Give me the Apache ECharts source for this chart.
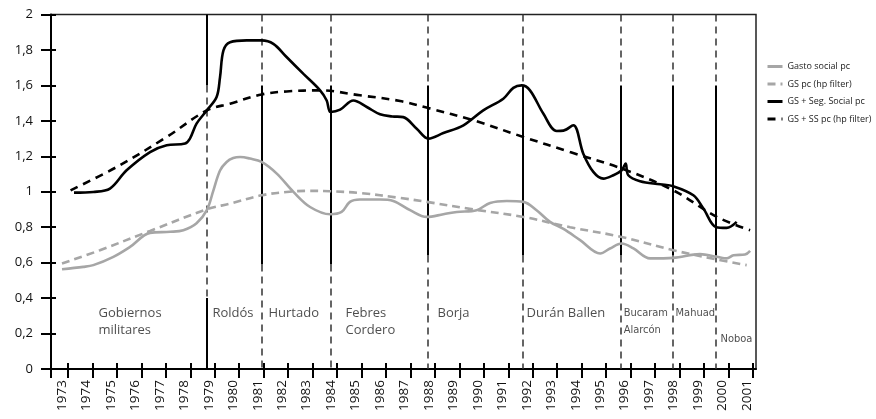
<!DOCTYPE html>
<html><head><meta charset="utf-8">
<script src="https://cdn.jsdelivr.net/npm/echarts@6/dist/echarts.min.js"></script>
<style>html,body{margin:0;padding:0;background:#fff}#c{width:876px;height:419px}</style>
</head><body><div id="c"></div>
<script>
// ---- tick labels ----
const years = [];
for (let y = 1973; y <= 2001; y++) years.push(y);
const yTicks = [0,0.2,0.4,0.6,0.8,1,1.2,1.4,1.6,1.8,2];

// ---- series values (x = year, y = value) ----
const gastoX = [1973.0,1973.87,1974.28,1975.1,1975.78,1976.6,1977.42,1977.96,1978.5,1978.92,1979.19,1979.46,1979.73,1980.0,1980.28,1980.69,1981.16,1981.78,1982.46,1983.14,1983.96,1984.43,1984.77,1985.18,1986.0,1986.54,1987.23,1987.91,1988.59,1989.14,1989.95,1990.5,1991.18,1991.86,1992.4,1992.95,1993.5,1994.18,1995.0,1995.4,1995.88,1996.36,1997.04,1997.99,1999.08,1999.77,2000.17,2000.45,2000.92,2001.13];
const gastoY = [0.563,0.576,0.586,0.633,0.689,0.768,0.774,0.783,0.822,0.896,1.008,1.12,1.168,1.19,1.196,1.187,1.168,1.102,0.999,0.914,0.873,0.886,0.943,0.956,0.956,0.948,0.896,0.858,0.873,0.886,0.896,0.937,0.948,0.943,0.896,0.830,0.79,0.727,0.652,0.68,0.708,0.68,0.624,0.627,0.648,0.633,0.624,0.642,0.646,0.667];

const gsHpX = [1973.0,1974.55,1976.6,1978.92,1979.87,1981.16,1982.18,1983.0,1983.96,1985.18,1986.82,1987.91,1989.82,1991.86,1993.77,1995.88,1997.99,1999.77,2000.99];
const gsHpY = [0.595,0.670,0.779,0.901,0.933,0.98,0.999,1.005,1.003,0.993,0.965,0.943,0.9,0.858,0.80,0.745,0.670,0.618,0.586];

const gssX = [1973.49,1974.28,1974.96,1975.64,1976.6,1977.28,1978.03,1978.23,1978.5,1978.92,1979.32,1979.46,1979.6,1979.87,1980.55,1981.16,1981.64,1982.18,1982.87,1983.55,1983.82,1983.98,1984.37,1984.91,1985.46,1986.0,1986.5,1986.95,1987.5,1987.98,1988.59,1989.41,1990.22,1991.04,1991.45,1991.79,1992.13,1992.68,1993.22,1993.5,1993.9,1994.31,1994.72,1995.13,1995.54,1995.88,1996.04,1996.15,1996.63,1997.45,1997.99,1998.81,1999.22,1999.74,2000.17,2000.58];
const gssY = [0.995,0.999,1.018,1.121,1.224,1.262,1.272,1.30,1.384,1.459,1.534,1.647,1.797,1.844,1.854,1.854,1.834,1.76,1.665,1.572,1.515,1.45,1.463,1.515,1.478,1.437,1.425,1.421,1.356,1.30,1.331,1.375,1.459,1.525,1.586,1.60,1.572,1.44,1.343,1.345,1.375,1.215,1.112,1.074,1.093,1.121,1.159,1.093,1.059,1.042,1.031,0.98,0.905,0.80,0.796,0.83];

const gssHpX = [1973.35,1975.24,1977.28,1978.92,1979.87,1981.16,1982.18,1983.55,1985.18,1986.82,1987.98,1989.82,1991.86,1993.77,1995.88,1997.99,1999.77,2001.13];
const gssHpY = [1.008,1.14,1.309,1.459,1.497,1.549,1.566,1.572,1.544,1.512,1.472,1.403,1.309,1.224,1.131,1.008,0.858,0.783];

// ---- government changes and labels ----
const changeYears = [1978.93,1981.18,1984.0,1987.96,1991.85,1995.85,1997.98,1999.74];
const solidLow = [0.4,0.59,0.59,0.64,0.64,0.64,0.64,0.64];
const govNames = ['Gobiernos\nmilitares','Roldós','Hurtado','Febres\nCordero','Borja','Durán Ballen','Bucaram\nAlarcón','Mahuad','Noboa'];
const govX = [1974.47,1979.13,1981.42,1984.57,1988.33,1991.97,1995.94,1998.06,1999.9];
const govY = [0.268,0.315,0.315,0.268,0.315,0.315,0.268,0.315,0.169];
const narrowGov = ['Bucaram\nAlarcón','Mahuad','Noboa'];

const names = ['Gasto social pc','GS pc (hp filter)','GS + Seg. Social pc','GS + SS pc (hp filter)'];

const zip = (a, b) => a.map((v, i) => [v, b[i]]);
const xMin = 1972.55, xMax = 2001.37, tickShift = 0.245;
const tickVals = [xMin].concat(years.map(y => y + tickShift));

const FONT = "'Open Sans', 'DejaVu Sans', sans-serif";
const NARROW = "'Liberation Sans Narrow', 'DejaVu Sans Condensed', sans-serif";

// vertical segments
const segs = [];
changeYears.forEach((x, i) => {
  const solid = {color:'#000', width:2, type:'solid'};
  const dash = {color:'#333', width:1.5, type:[7,5]};
  let parts;
  if (i === 0) parts = [[2,1.6,solid],[1.6,solidLow[i],dash],[solidLow[i],0,solid]];
  else parts = [[2,1.6,dash],[1.6,solidLow[i],solid],[solidLow[i],0,dash]];
  parts.forEach(p => segs.push([{coord:[x,p[0]], lineStyle:p[2]}, {coord:[x,p[1]]}]));
});

const govData = govNames.map((n, i) => {
  const item = {name:n, value:[govX[i], govY[i]]};
  if (narrowGov.includes(n)) item.label = {fontFamily: NARROW, fontSize: 11, lineHeight: 17};
  return item;
});

const chart = echarts.init(document.getElementById('c'), null, {renderer:'canvas'});
const lineBase = {type:'line', showSymbol:false, symbol:'none', smooth:0.35, z:5, xAxisIndex:0, yAxisIndex:0};
chart.setOption({
  animation:false,
  backgroundColor:'#fff',
  textStyle:{fontFamily:FONT},
  grid:{left:51, right:120, top:14.5, bottom:50, show:true, borderColor:'#222', borderWidth:1.5, backgroundColor:'transparent'},
  legend:{
    orient:'vertical', left:761, top:57, itemWidth:15, itemHeight:10, itemGap:8.5,
    data:names, textStyle:{fontSize:9, color:'#222', fontFamily:FONT}, selectedMode:false,
    itemStyle:{opacity:0, borderWidth:0}, lineStyle:{width:3}
  },
  xAxis:[{
    type:'value', min:xMin, max:xMax, position:'bottom',
    axisLine:{lineStyle:{color:'#000', width:2}},
    axisTick:{customValues:tickVals, length:9, lineStyle:{color:'#000', width:2}},
    axisLabel:{customValues:years, rotate:90, margin:11, fontSize:13.5, color:'#111', fontFamily:FONT, formatter:v => String(Math.round(v))},
    splitLine:{show:false}
  },{
    type:'value', min:xMin, max:xMax, position:'bottom',
    axisLine:{show:false},
    axisTick:{customValues:tickVals, inside:true, length:6, lineStyle:{color:'#000', width:2}},
    axisLabel:{show:false}, splitLine:{show:false}
  }],
  yAxis:[{
    type:'value', min:0, max:2, interval:0.2, position:'left',
    axisLine:{show:true, lineStyle:{color:'#000', width:2}},
    axisTick:{show:true, length:10, lineStyle:{color:'#000', width:2}},
    axisLabel:{margin:18, fontSize:13, color:'#111', fontFamily:FONT,
      formatter:v => String(+v.toFixed(1)).replace('.', ',')},
    splitLine:{show:false}
  },{
    type:'value', min:0, max:2, interval:0.2, position:'left',
    axisLine:{show:false},
    axisTick:{show:true, inside:true, length:5, lineStyle:{color:'#000', width:2}},
    axisLabel:{show:false}, splitLine:{show:false}
  }],
  series:[
    Object.assign({}, lineBase, {name:names[0], data:zip(gastoX, gastoY), color:'#a6a6a6', lineStyle:{color:'#a6a6a6', width:2.6}}),
    Object.assign({}, lineBase, {name:names[1], data:zip(gsHpX, gsHpY), color:'#a6a6a6', lineStyle:{color:'#a6a6a6', width:2.6, type:[8,5]}}),
    Object.assign({}, lineBase, {name:names[2], data:zip(gssX, gssY), color:'#000', lineStyle:{color:'#000', width:2.6}}),
    Object.assign({}, lineBase, {name:names[3], data:zip(gssHpX, gssHpY), color:'#000', lineStyle:{color:'#000', width:2.6, type:[8,6]}}),
    {
      type:'scatter', name:'gov', symbolSize:1, itemStyle:{color:'rgba(0,0,0,0)'}, z:3, silent:true,
      data:govData,
      label:{show:true, position:'right', distance:0, formatter:'{b}', fontSize:13, lineHeight:17, color:'#222', fontFamily:FONT, align:'left', verticalAlign:'middle'},
      markLine:{silent:true, symbol:['none','none'], label:{show:false}, animation:false, data:segs, z:2}
    }
  ]
});
</script>
</body></html>
